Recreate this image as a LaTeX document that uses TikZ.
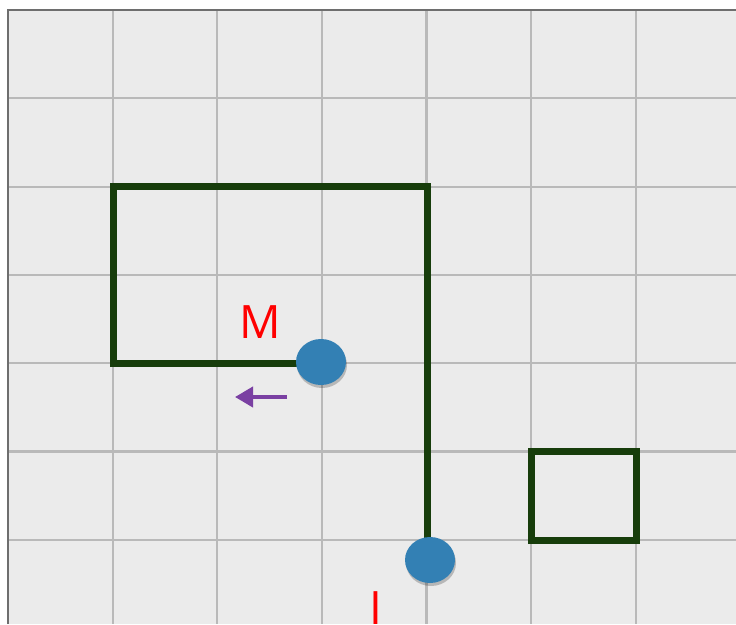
\documentclass[tikz,border=0pt]{standalone}
\usepackage{fontspec}
\setmainfont{Open Sans}
\usetikzlibrary{shadows,arrows.meta,shapes.geometric}
\definecolor{bggray}{HTML}{EBEBEB}
\definecolor{gridgray}{HTML}{B9B9B9}
\definecolor{framegray}{HTML}{6E6E6E}
\definecolor{pathgreen}{HTML}{173D0B}
\definecolor{dotblue}{HTML}{3380B4}
\definecolor{arrowpurple}{HTML}{7A40A2}
\tikzset{
  gridline/.style={draw=gridgray, line width=2.2pt},
  trail/.style={draw=pathgreen, line width=7pt},
  dot/.style={ellipse, fill=dotblue, minimum width=50pt, minimum height=46pt, inner sep=0pt,
    drop shadow={shadow xshift=1pt, shadow yshift=-3pt, opacity=0.22, fill=black}},
  lbl/.style={text=red, font=\fontsize{46}{46}\selectfont, inner sep=0pt},
  motion/.style={draw=arrowpurple, line width=4pt, -{Triangle[length=18pt,width=20pt]}},
}
\begin{document}
\begin{tikzpicture}[x=1pt,y=-1pt]
\useasboundingbox (0,0) rectangle (736,624);
\fill[white] (0,0) rectangle (736,624);
\fill[bggray] (8,10) rectangle (736,624);
% grid
\foreach \gx in {112.6,217.2,321.8,426.4,531,635.6}
  \draw[gridline] (\gx,10) -- (\gx,624);
\foreach \gy in {98.3,186.6,274.9,363.2,451.5,539.8}
  \draw[gridline] (8,\gy) -- (736,\gy);
% frame
\draw[framegray, line width=2.5pt] (8,624) -- (8,10) -- (736,10);
% shapes
\coordinate (c1) at (113,363);
\coordinate (c2) at (113,186.6);
\coordinate (c3) at (427,186.6);
\coordinate (c4) at (427,545);
\draw[trail, line join=miter] (321,363) -- (c1) -- (c2) -- (c3) -- (c4);
\draw[trail] (531.5,451.5) rectangle (636,540);
% dots
\node[dot] (dm) at (321,362) {};
\node[dot] (di) at (430,560) {};
% labels
\node[lbl] (lm) at (260,322) {M};
\node[lbl] (li) at (376,608) {I};
% arrow
\coordinate (a1) at (287,397);
\coordinate (a2) at (235,397);
\draw[motion] (a1) -- (a2);
\end{tikzpicture}
\end{document}
